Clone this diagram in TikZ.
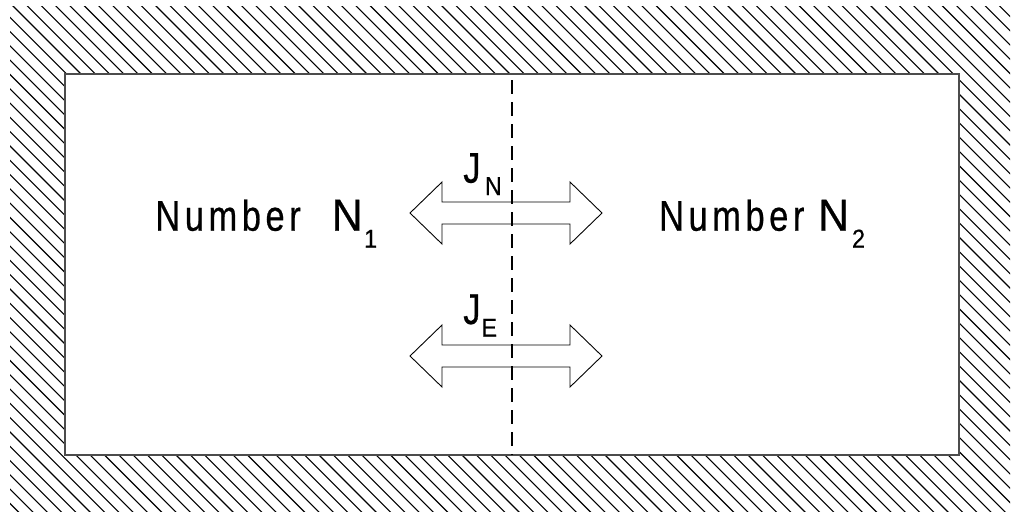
\documentclass[tikz,border=0pt]{standalone}
\usepackage{fontspec}
\setmainfont{Liberation Sans}
\newfontfamily\labc[FakeStretch=0.8,FakeBold=0.5]{Liberation Sans}
\newfontfamily\labn[FakeStretch=0.95,FakeBold=0.5]{Liberation Sans}
\newfontfamily\labs[FakeStretch=0.9,FakeBold=0.4]{Liberation Sans}
\newcommand\lk{\kern4.6pt}
\newcommand\bigc{\labc\fontsize{43}{43}\selectfont}
\newcommand\bign{\labn\fontsize{45}{45}\selectfont}
\newcommand\smalls{\labs\fontsize{26}{26}\selectfont}
\begin{document}
\begin{tikzpicture}[x=1pt,y=-1pt,
  hatch/.style={line width=1.1pt},
  wall/.style={draw=black!70, line width=1.2pt, fill=white},
  flux/.style={draw=black, line width=0.9pt, fill=white, line join=miter},
  divider/.style={line width=2pt, dash pattern=on 14pt off 8pt, dash phase=16pt},
  lbl/.style={inner sep=0pt, outer sep=0pt, anchor=base west}]
\useasboundingbox (0,0) rectangle (1016,515);
\begin{scope}
  \clip (10,6) rectangle (1010,511);
  \foreach \k in {-37,...,71}
    \draw[hatch] ({7+14.3*\k-20},-20) -- ({7+14.3*\k+540},540);
\end{scope}
\path[wall] (65,74) rectangle (959,455);
\foreach \c/\n in {213/fn,356/fe}{
  \draw[flux] (410,\c) -- (442,{\c-31}) -- (442,{\c-11}) -- (570,{\c-11}) -- (570,{\c-31})
    -- (602,\c) -- (570,{\c+31}) -- (570,{\c+11}) -- (442,{\c+11}) -- (442,{\c+31}) -- cycle;
}
\coordinate (dtop) at (512,74);
\coordinate (dbot) at (512,455);
\draw[divider] (dtop) -- (dbot);
\node[lbl] (n1) at (155.4,230.7) {\bigc N\lk u\lk m\lk b\lk e\lk r\kern31pt{\bign N}\kern1.5pt\raisebox{-17pt}{\smalls 1}};
\node[lbl] (n2) at (659.1,230.7) {\bigc N\lk u\lk m\lk b\lk e\lk r\kern13.7pt{\bign N}\kern3pt\raisebox{-17pt}{\smalls 2}};
\node[lbl] (jn) at (463.3,182.7) {\bigc J\kern4.4pt\raisebox{-12.3pt}{\smalls N}};
\node[lbl] (je) at (463.3,324) {\bigc J\kern1pt\raisebox{-12.7pt}{\smalls E}};
\end{tikzpicture}
\end{document}
